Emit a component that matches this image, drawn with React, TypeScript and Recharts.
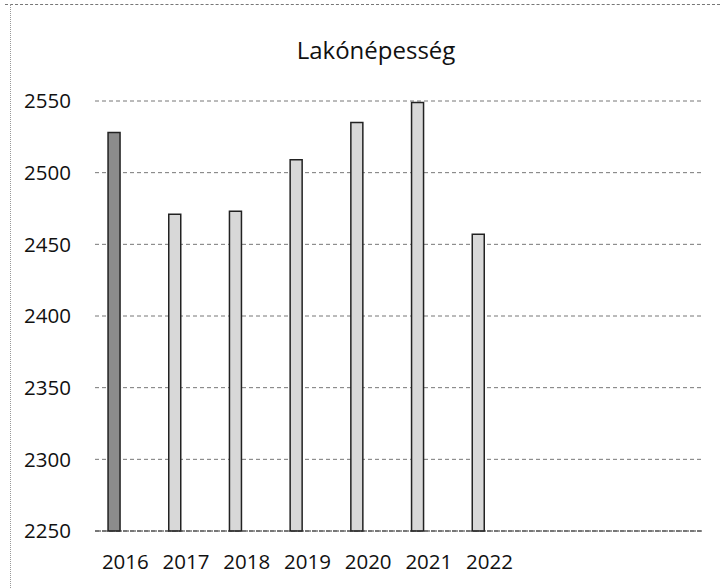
import { Bar, BarChart, CartesianGrid, Cell, XAxis, YAxis } from "recharts";

const years = ["2016", "2017", "2018", "2019", "2020", "2021", "2022"];
const population = [2528, 2471, 2473, 2509, 2535, 2549, 2457];
// three empty slots follow the last year on the category axis
const emptySlots = ["", "", ""];
const yTicks = [2250, 2300, 2350, 2400, 2450, 2500, 2550];

const data = [
  ...years.map((y, i) => ({ year: y, value: population[i] })),
  ...emptySlots.map((y) => ({ year: y, value: null })),
];

const FONT = "'Open Sans', 'DejaVu Sans', sans-serif";

export default function App() {
  return (
    <div style={{ position: "absolute", left: 0, top: 0, width: 720, height: 588, background: "#fff", fontFamily: FONT }}>
      <div style={{ position: "absolute", left: 5, top: 4, width: 715, borderTop: "1px dashed #777" }} />
      <div style={{ position: "absolute", left: 10, top: 4, height: 584, borderLeft: "1px dotted #999" }} />
      <div
        style={{
          position: "absolute",
          left: 276,
          width: 200,
          top: 34,
          textAlign: "center",
          fontSize: 24,
          lineHeight: "32px",
          color: "#111",
        }}
      >
        Lakónépesség
      </div>
      <BarChart
        width={720}
        height={588}
        data={data}
        margin={{ top: 101, right: 18, left: 15, bottom: 17 }}
        barCategoryGap="21.5%"
        barGap={0}
      >
        <CartesianGrid vertical={false} stroke="#777" strokeDasharray="4 3" />
        <XAxis
          dataKey="year"
          height={40}
          tickLine={false}
          axisLine={{ stroke: "#333", strokeDasharray: "6 1" }}
          tickMargin={17}
          tick={{ fontSize: 20.5, fill: "#111", fontFamily: FONT }}
          interval={0}
        />
        <YAxis
          width={80}
          domain={[2250, 2550]}
          ticks={yTicks}
          axisLine={false}
          tickLine={false}
          tickMargin={18}
          tick={{ fontSize: 20.5, fill: "#111", fontFamily: FONT }}
        />
        <Bar dataKey="value" fill="#d8d8d8" stroke="#222" strokeWidth={1.5} isAnimationActive={false}>
          {data.map((_, i) => (
            <Cell key={i} fill={i === 0 ? "#8c8c8c" : "#d8d8d8"} />
          ))}
        </Bar>
        <Bar dataKey="b" isAnimationActive={false} />
        <Bar dataKey="c" isAnimationActive={false} />
      </BarChart>
    </div>
  );
}
